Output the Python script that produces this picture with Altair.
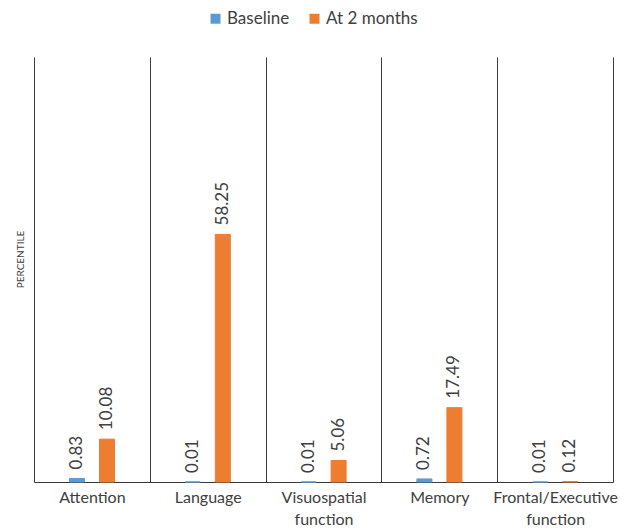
import altair as alt
import pandas as pd

categories = ["Attention", "Language", "Visuospatial function", "Memory", "Frontal/Executive function"]
baseline = [0.83, 0.01, 0.01, 0.72, 0.01]
at2months = [10.08, 58.25, 5.06, 17.49, 0.12]
series = ["Baseline", "At 2 months"]
colors = ["#5B9BD5", "#ED7D31"]

rows = []
for c, b, a in zip(categories, baseline, at2months):
    rows.append({"cat": c, "series": series[0], "value": b, "label": f"{b:.2f}"})
    rows.append({"cat": c, "series": series[1], "value": a, "label": f"{a:.2f}"})
df = pd.DataFrame(rows)

FONT = "Lato"
TXT = "#404040"
LINE = "#3a3a3a"

x = alt.X("cat:N", sort=categories, title=None,
          scale=alt.Scale(paddingInner=0, paddingOuter=0),
          axis=alt.Axis(tickBand="extent", grid=True, gridColor=LINE, gridOpacity=1,
                        domainColor=LINE, ticks=False, labelAngle=0,
                        labelExpr="datum.label == 'Visuospatial function' ? ['Visuospatial', 'function'] : datum.label == 'Frontal/Executive function' ? ['Frontal/Executive', 'function'] : datum.label",
                        labelFont=FONT, labelFontSize=16, labelColor=TXT, labelPadding=7,
                        labelLineHeight=22))
xo = alt.XOffset("series:N", sort=series,
                 scale=alt.Scale(range=[35.5, 80.5], paddingInner=0.5, paddingOuter=0))
y = alt.Y("value:Q", scale=alt.Scale(domain=[0, 100], nice=False),
          axis=alt.Axis(title="PERCENTILE", labels=False, ticks=False, grid=False, domain=False,
                        titleFont=FONT, titleFontSize=10, titleFontWeight="normal",
                        titleColor=TXT, titleX=-14, titleY=202, titleAngle=270,
                        titleAlign="center", titleBaseline="middle"))

bars = alt.Chart(df).mark_bar(strokeWidth=1).encode(
    x=x, xOffset=xo, y=y,
    color=alt.Color("series:N", sort=series,
                    scale=alt.Scale(domain=series, range=colors),
                    legend=alt.Legend(title=None, orient="none", legendX=173, legendY=-47,
                                      direction="horizontal", symbolType="square",
                                      symbolSize=100, symbolStrokeWidth=0,
                                      labelFont=FONT, labelFontSize=17, labelColor=TXT,
                                      columnPadding=16, labelOffset=3)),
    stroke=alt.Stroke("series:N", sort=series,
                      scale=alt.Scale(domain=series, range=colors), legend=None),
)

labels = alt.Chart(df).mark_text(angle=270, align="left", baseline="middle", dx=9,
                                 font=FONT, fontSize=17, color=TXT).encode(
    x=x, xOffset=xo, y=y, text="label:N")

chart = alt.layer(bars, labels).properties(
    width=579, height=425,
    autosize=alt.AutoSizeParams(type="none"),
    padding={"left": 34, "top": 57, "right": 16, "bottom": 47},
).configure_view(stroke=None)

chart.save("out.html", embed_options={"renderer": "svg", "actions": False})
